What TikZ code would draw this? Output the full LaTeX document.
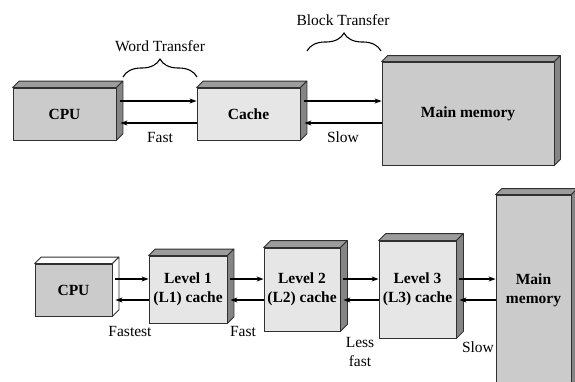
\documentclass[tikz,border=0pt]{standalone}
\usepackage{fontspec}
\setmainfont{Liberation Serif}
\usetikzlibrary{arrows.meta,decorations.pathreplacing,calc}
\definecolor{edge}{HTML}{303030}
\definecolor{frontdark}{HTML}{CBCBCB}
\definecolor{frontlight}{HTML}{E6E6E6}
\definecolor{topgray}{HTML}{9C9C9C}
\definecolor{sidegray}{HTML}{858585}
\newcommand\cubefaces[4]{%
  \filldraw[#3,draw=edge,line width=0.8pt,line join=round] (#1.north west) -- ++(#2,-#2) -- ($(#1.north east)+(#2,-#2)$) -- (#1.north east) -- cycle;
  \filldraw[#4,draw=edge,line width=0.8pt,line join=round] (#1.north east) -- ++(#2,-#2) -- ($(#1.south east)+(#2,-#2)$) -- (#1.south east) -- cycle;}
\begin{document}
\begin{tikzpicture}[x=1pt,y=-1pt,
  box/.style={draw=edge,line width=0.8pt,inner sep=0pt,align=center,font=\fontsize{15.5}{19}\selectfont\bfseries},
  lbl/.style={inner sep=0pt,align=center,font=\fontsize{15.5}{19}\selectfont},
  arr/.style={line width=1.2pt,-{Stealth[length=7pt,width=5pt]}},
  brc/.style={line width=1.1pt,decorate,decoration={brace,amplitude=18pt}}]
\useasboundingbox (0,0) rectangle (575,381);
% ---------- top row ----------
\node[box,fill=frontdark,minimum width=103pt,minimum height=52pt] (cpuA) at (64.5,114) {CPU};
\cubefaces{cpuA}{6.5}{topgray}{sidegray}
\node[box,fill=frontlight,minimum width=103pt,minimum height=52pt] (cache) at (248.5,114) {Cache};
\cubefaces{cache}{6.5}{topgray}{sidegray}
\node[box,fill=frontdark,minimum width=172pt,minimum height=103pt] (mmA) at (468,113.5) {Main memory};
\cubefaces{mmA}{6}{topgray}{sidegray}
\draw[arr] ([xshift=4pt,yshift=13pt]cpuA.east) -- ([yshift=13pt]cache.west);
\draw[arr] ([yshift=-9pt]cache.west) -- ([xshift=4pt,yshift=-9pt]cpuA.east);
\draw[arr] ([xshift=4pt,yshift=13pt]cache.east) -- ([yshift=12.5pt]mmA.west);
\draw[arr] ([yshift=-9.5pt]mmA.west) -- ([xshift=4pt,yshift=-9pt]cache.east);
\draw[brc] (123,77) -- (197,77);
\draw[brc] (307,51) -- (381,51);
\node[lbl] (wt) at (160,46) {Word Transfer};
\node[lbl] (bt) at (343,20) {Block Transfer};
\node[lbl] (fastA) at (160,137) {Fast};
\node[lbl] (slowA) at (343,137) {Slow};
% ---------- bottom row ----------
\node[box,fill=frontdark,minimum width=77pt,minimum height=52pt] (cpuB) at (73.5,290) {CPU};
\cubefaces{cpuB}{6.5}{white}{white}
\node[box,fill=frontlight,minimum width=78pt,minimum height=67pt] (l1) at (188,289.5) {Level 1\\(L1) cache};
\cubefaces{l1}{6.5}{topgray}{sidegray}
\node[box,fill=frontlight,minimum width=76pt,minimum height=83pt] (l2) at (302,289.5) {Level 2\\(L2) cache};
\cubefaces{l2}{7}{topgray}{sidegray}
\node[box,fill=frontlight,minimum width=77pt,minimum height=97pt] (l3) at (417.5,289.5) {Level 3\\(L3) cache};
\cubefaces{l3}{7}{topgray}{sidegray}
\node[box,fill=frontdark,minimum width=75pt,minimum height=190pt] (mmB) at (533.5,290) {Main\\memory};
\cubefaces{mmB}{6}{topgray}{sidegray}
\draw[arr] ([xshift=3pt,yshift=11pt]cpuB.east) -- ([yshift=10.5pt]l1.west);
\draw[arr] ([yshift=-10.5pt]l1.west) -- ([xshift=3pt,yshift=-10pt]cpuB.east);
\draw[arr] ([xshift=3pt,yshift=10.5pt]l1.east) -- ([yshift=10.5pt]l2.west);
\draw[arr] ([yshift=-10.5pt]l2.west) -- ([xshift=3pt,yshift=-10.5pt]l1.east);
\draw[arr] ([xshift=3pt,yshift=10.5pt]l2.east) -- ([yshift=10.5pt]l3.west);
\draw[arr] ([yshift=-10.5pt]l3.west) -- ([xshift=3pt,yshift=-10.5pt]l2.east);
\draw[arr] ([xshift=3pt,yshift=10.5pt]l3.east) -- ([yshift=11pt]mmB.west);
\draw[arr] ([yshift=-10pt]mmB.west) -- ([xshift=3pt,yshift=-10.5pt]l3.east);
\node[lbl] (fastest) at (130,331) {Fastest};
\node[lbl] (fastB) at (243,331) {Fast};
\node[lbl] (lessfast) at (360,352) {Less\\fast};
\node[lbl] (slowB) at (478,347) {Slow};
\end{tikzpicture}
\end{document}
